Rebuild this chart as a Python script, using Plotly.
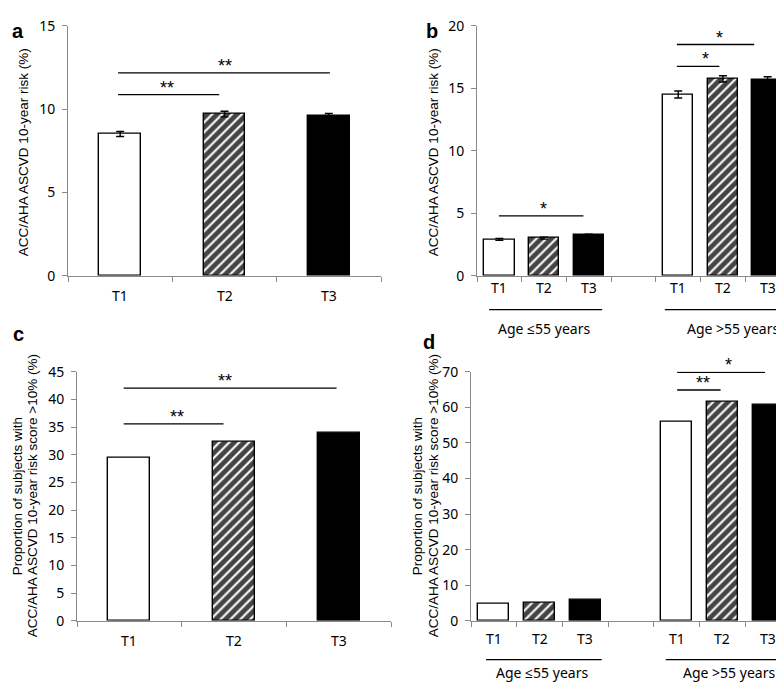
import plotly.graph_objects as go

# ---------------- data ----------------
tiers = ["T1", "T2", "T3"]
groups = ["Age ≤55 years", "Age >55 years"]

a_vals = [8.5, 9.7, 9.6]
a_err = [0.15, 0.17, 0.13]

b_young = [2.9, 3.0, 3.25]
b_young_err = [0.08, 0.08, 0.07]
b_old = [14.5, 15.75, 15.7]
b_old_err = [0.28, 0.25, 0.22]

c_vals = [29.5, 32.4, 34.0]

d_young = [4.8, 5.0, 6.0]
d_old = [55.8, 61.5, 60.8]

title_ab = "ACC/AHA ASCVD 10-year risk (%)"
title_cd_1 = "Proportion of subjects with"
title_cd_2 = "ACC/AHA ASCVD 10-year risk score >10% (%)"

# ---------------- styles ----------------
AX = "#8a8a8a"
TICKFONT = dict(family="Noto Sans, Open Sans, sans-serif", size=14, color="black")
TFONT = dict(family="Liberation Sans, Arial, sans-serif", size=13.5, color="black")
W, H = 784, 683

fill_colors = ["white", "white", "black"]
pat_shapes = ["", "/", ""]


def marker():
    return dict(color=fill_colors,
                line=dict(color="black", width=1.4),
                pattern=dict(shape=pat_shapes, fgcolor="black", bgcolor="white",
                             fgopacity=1, size=7, solidity=0.7))


def err(arr):
    return dict(type="data", array=arr, visible=True, color="black",
                thickness=1.4, width=4)


fig = go.Figure()

# panel a
xa = [i + 0.5 for i in range(3)]
fig.add_trace(go.Bar(x=xa, y=a_vals, error_y=err(a_err), width=0.4,
                     marker=marker(), xaxis="x", yaxis="y", showlegend=False))
# panel b
xy = [i + 0.5 for i in range(3)]
xo = [i + 4.5 for i in range(3)]
fig.add_trace(go.Bar(x=xy, y=b_young, error_y=err(b_young_err), width=0.68,
                     marker=marker(), xaxis="x2", yaxis="y2", showlegend=False))
fig.add_trace(go.Bar(x=xo, y=b_old, error_y=err(b_old_err), width=0.68,
                     marker=marker(), xaxis="x2", yaxis="y2", showlegend=False))
# panel c
fig.add_trace(go.Bar(x=xa, y=c_vals, width=0.4,
                     marker=marker(), xaxis="x3", yaxis="y3", showlegend=False))
# panel d
fig.add_trace(go.Bar(x=xy, y=d_young, width=0.68,
                     marker=marker(), xaxis="x4", yaxis="y4", showlegend=False))
fig.add_trace(go.Bar(x=xo, y=d_old, width=0.68,
                     marker=marker(), xaxis="x4", yaxis="y4", showlegend=False))


def xax(dom, n, anchor):
    return dict(domain=dom, range=[0, n], anchor=anchor, showgrid=False, zeroline=False,
                showline=True, linecolor=AX, linewidth=1, ticks="outside", ticklen=5,
                tickcolor=AX, tickvals=list(range(n + 1)), showticklabels=False,
                fixedrange=True)


def yax(dom, rng, dt, anchor):
    return dict(domain=dom, range=rng, anchor=anchor, showgrid=False, zeroline=False,
                showline=True, linecolor=AX, linewidth=1, ticks="outside", ticklen=5,
                tickcolor=AX, dtick=dt, tickfont=TICKFONT, ticklabelstandoff=4)


def px(x):
    return x / W


def py(y):
    return 1 - y / H


top_dom = [py(265), py(8)]
bot_dom = [py(620), py(364)]

fig.update_layout(
    width=W, height=H, margin=dict(l=0, r=0, t=0, b=0),
    plot_bgcolor="white", paper_bgcolor="white", bargap=0,
    xaxis=xax([px(60), px(373)], 3, "y"),
    yaxis=yax(top_dom, [0, 15], 5, "x"),
    xaxis2=xax([px(469), px(782)], 7, "y2"),
    yaxis2=yax(top_dom, [0, 20], 5, "x2"),
    xaxis3=xax([px(69), px(383)], 3, "y3"),
    yaxis3=yax(bot_dom, [0, 45], 5, "x3"),
    xaxis4=xax([px(463), px(783)], 7, "y4"),
    yaxis4=yax(bot_dom, [0, 70], 10, "x4"),
)

ann = []
shapes = []

# tier tick labels
def tier_labels(xref, yref, centers, shift):
    for i, c in enumerate(centers):
        ann.append(dict(x=c, y=0, xref=xref, yref=yref + " domain", text=tiers[i % 3],
                        showarrow=False, yanchor="middle", yshift=-shift, font=TICKFONT))

tier_labels("x", "y", xa, 20)
tier_labels("x2", "y2", xy + xo, 12)
tier_labels("x3", "y3", xa, 20)
tier_labels("x4", "y4", xy + xo, 18)

# group underlines and labels
def group_marks(xref, line_y, lab_y, spans, centers):
    for (x0, x1) in spans:
        shapes.append(dict(type="line", xref=xref, yref="paper", x0=x0, x1=x1,
                           y0=py(line_y), y1=py(line_y), line=dict(color="black", width=1.3)))
    for g, c in zip(groups, centers):
        ann.append(dict(x=c, y=py(lab_y), xref=xref, yref="paper", text=g, showarrow=False,
                        yanchor="middle", font=TICKFONT))

group_marks("x2", 300, 319, [(0.27, 2.80), (4.20, 7.0)], [1.5, 5.73])
group_marks("x4", 660, 673, [(0.33, 2.86), (4.26, 7.0)], [1.55, 5.65])

# significance lines
def sig(xref, yref, x0, x1, y, stars, xs):
    shapes.append(dict(type="line", xref=xref, yref=yref, x0=x0, x1=x1, y0=y, y1=y,
                       line=dict(color="black", width=1.3)))
    ann.append(dict(x=xs, y=y, xref=xref, yref=yref, text=stars, showarrow=False,
                    yanchor="bottom", yshift=-5,
                    font=dict(family="Liberation Sans, Arial", size=18, color="black")))

sig("x", "y", 0.48, 2.51, 12.17, "**", 1.50)
sig("x", "y", 0.48, 1.45, 10.87, "**", 0.95)
sig("x2", "y2", 0.49, 2.38, 4.78, "*", 1.48)
sig("x2", "y2", 4.47, 6.20, 18.5, "*", 5.43)
sig("x2", "y2", 4.47, 5.42, 16.75, "*", 5.11)
sig("x3", "y3", 0.446, 2.48, 42.07, "**", 1.41)
sig("x3", "y3", 0.446, 1.40, 35.6, "**", 0.96)
sig("x4", "y4", 4.51, 6.43, 69.9, "*", 5.63)
sig("x4", "y4", 4.51, 5.46, 64.9, "**", 5.08)

# y axis titles
def ytitle(x, yc, text):
    ann.append(dict(x=px(x), y=py(yc), xref="paper", yref="paper", text=text, textangle=-90,
                    showarrow=False, xanchor="center", yanchor="middle", font=TFONT))

ytitle(15, 138, title_ab)
ytitle(425, 138, title_ab)
ytitle(9, 492, title_cd_1)
ytitle(24, 492, title_cd_2)
ytitle(409, 492, title_cd_1)
ytitle(425, 492, title_cd_2)

# panel letters
for lab, x, y in [("a", 10, 13), ("b", 424, 13), ("c", 10, 325), ("d", 421, 333)]:
    ann.append(dict(x=px(x), y=py(y), xref="paper", yref="paper", text="<b>%s</b>" % lab,
                    showarrow=False, xanchor="center", yanchor="middle",
                    font=dict(family="Liberation Sans, Arial", size=20, color="black")))

fig.update_layout(annotations=ann, shapes=shapes)
fig.write_html("out.html")
